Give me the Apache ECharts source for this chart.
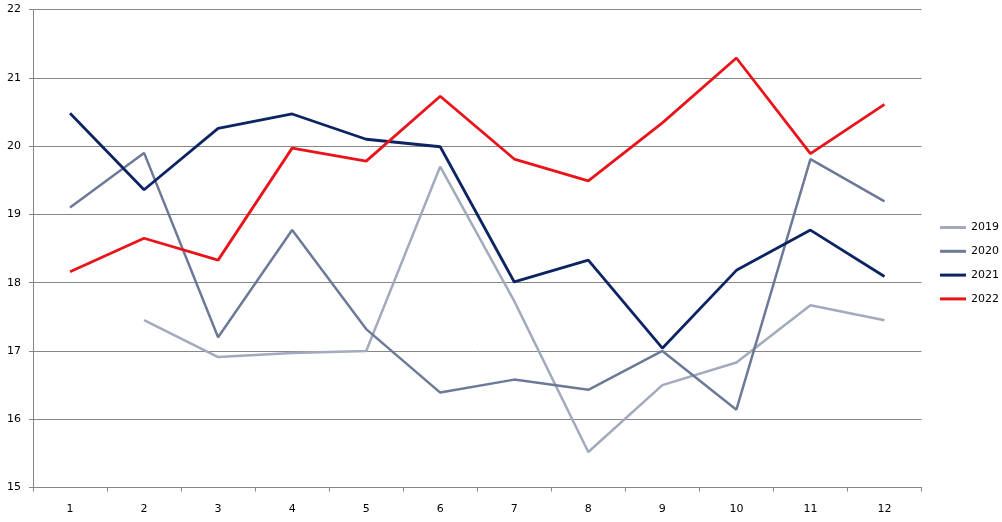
<!DOCTYPE html>
<html>
<head>
<meta charset="utf-8">
<script src="https://cdn.jsdelivr.net/npm/echarts@6/dist/echarts.min.js"></script>
<style>
html,body{margin:0;padding:0;background:#fff;}
#chart{width:1002px;height:522px;}
</style>
</head>
<body>
<div id="chart"></div>
<script>
const categories = ['1','2','3','4','5','6','7','8','9','10','11','12'];
const seriesNames = ['2019','2020','2021','2022'];
const values2019 = [null, 17.45, 16.91, 16.97, 17.00, 19.70, 17.73, 15.52, 16.50, 16.83, 17.67, 17.45];
const values2020 = [19.10, 19.90, 17.20, 18.77, 17.32, 16.39, 16.58, 16.43, 17.00, 16.14, 19.81, 19.19];
const values2021 = [20.48, 19.36, 20.26, 20.47, 20.10, 19.99, 18.01, 18.33, 17.04, 18.18, 18.77, 18.09];
const values2022 = [18.16, 18.65, 18.33, 19.97, 19.78, 20.73, 19.81, 19.49, 20.34, 21.29, 19.89, 20.61];
const yTicks = {min: 15, max: 22, step: 1};

const colors = ['#A2AABD', '#6C7A98', '#0C2461', '#E8141A'];
const widths = [2.5, 2.5, 2.8, 2.8];
const allValues = [values2019, values2020, values2021, values2022];

const chart = echarts.init(document.getElementById('chart'), null, {renderer: 'canvas'});
const font = 'DejaVu Sans';
chart.setOption({
  animation: false,
  backgroundColor: '#ffffff',
  grid: {left: 33, right: 80.5, top: 9.5, bottom: 34.5},
  legend: {
    orient: 'vertical',
    left: 940,
    top: 220.5,
    padding: 0,
    itemGap: 9.8,
    itemWidth: 26,
    itemHeight: 3,
    icon: 'rect',
    data: seriesNames,
    textStyle: {fontFamily: font, fontSize: 11, color: '#000', lineHeight: 14}
  },
  xAxis: {
    type: 'category',
    data: categories,
    boundaryGap: true,
    axisLine: {lineStyle: {color: '#868686', width: 1}},
    axisTick: {show: true, length: 4, alignWithLabel: false, lineStyle: {color: '#868686'}},
    axisLabel: {fontFamily: font, fontSize: 11, color: '#000', margin: 16}
  },
  yAxis: {
    type: 'value',
    min: yTicks.min,
    max: yTicks.max,
    interval: yTicks.step,
    axisLine: {show: true, lineStyle: {color: '#868686', width: 1}},
    axisTick: {show: true, length: 4, lineStyle: {color: '#868686'}},
    axisLabel: {fontFamily: font, fontSize: 11, color: '#000', margin: 12},
    splitLine: {show: true, lineStyle: {color: '#868686', width: 1}}
  },
  series: seriesNames.map((n, i) => ({
    name: n,
    type: 'line',
    data: allValues[i],
    symbol: 'none',
    showSymbol: false,
    connectNulls: false,
    itemStyle: {color: colors[i]},
    lineStyle: {color: colors[i], width: widths[i]}
  }))
});
</script>
</body>
</html>
